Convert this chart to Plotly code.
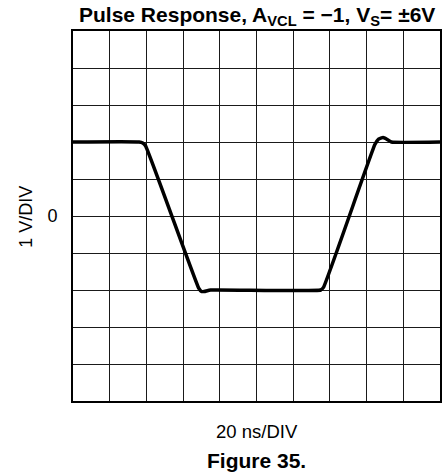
import plotly.graph_objects as go

# Scope trace: time (ns) and output voltage (V)
time_ns = [0, 36.0, 38.0, 39.5, 68.5, 70.0, 71.5, 75.0, 135.0, 136.5,
           164.5, 166.5, 169.0, 171.5, 173.5, 200]
volts = [2.0, 2.0, 1.97, 1.9, -1.95, -2.04, -2.04, -2.0, -2.0, -1.93,
         1.93, 2.08, 2.12, 2.06, 2.0, 2.0]

x_ticks = list(range(0, 201, 20))
y_ticks = list(range(-5, 6))
y_ticktext = ["0" if v == 0 else "" for v in y_ticks]

FONT = "Liberation Sans, Arial, sans-serif"
W, H = 443, 476
ML, MR, MT, MB = 73, 1, 31, 75

fig = go.Figure()
fig.add_trace(go.Scatter(
    x=time_ns, y=volts, mode="lines",
    line=dict(color="black", width=3.5, shape="spline", smoothing=0.4),
    hoverinfo="skip", showlegend=False,
))

fig.update_xaxes(
    range=[0, 200], tickvals=x_ticks, showticklabels=False, ticks="",
    showgrid=True, gridcolor="#1a1a1a", gridwidth=1, zeroline=False,
    showline=True, linecolor="black", linewidth=2, mirror=True,
    fixedrange=True,
)
fig.update_yaxes(
    range=[-5, 5], tickvals=y_ticks, ticktext=y_ticktext, ticks="",
    ticklabelstandoff=10,
    tickfont=dict(family=FONT, size=18, color="black"),
    showgrid=True, gridcolor="#1a1a1a", gridwidth=1, zeroline=False,
    showline=True, linecolor="black", linewidth=2, mirror=True,
    fixedrange=True,
)

ph = H - MT - MB


def py(px):
    return (H - MB - px) / ph


fig.add_annotation(
    text="Pulse Response, A<sub>VCL</sub> = \u22121, V<sub>S</sub>= \u00b16V",
    xref="paper", yref="paper", x=0.5, y=py(16), xanchor="center",
    yanchor="middle", showarrow=False,
    font=dict(family=FONT, size=21, color="black", weight="bold"),
)
fig.add_annotation(
    text="1 V/DIV", xref="paper", yref="paper", x=(25.5 - ML) / (W - ML - MR),
    y=py(217), textangle=-90, xanchor="center", yanchor="middle",
    showarrow=False, font=dict(family=FONT, size=18, color="black"),
)
fig.add_annotation(
    text="20 ns/DIV", xref="paper", yref="paper", x=0.5, y=py(431),
    xanchor="center", yanchor="middle", showarrow=False,
    font=dict(family=FONT, size=18.5, color="black"),
)
fig.add_annotation(
    text="Figure 35.", xref="paper", yref="paper", x=0.5, y=py(460),
    xanchor="center", yanchor="middle", showarrow=False,
    font=dict(family=FONT, size=21, color="black", weight="bold"),
)

fig.update_layout(
    width=W, height=H,
    margin=dict(l=ML, r=MR, t=MT, b=MB, pad=0),
    paper_bgcolor="white", plot_bgcolor="white",
    showlegend=False,
)

fig.write_html("out.html", config={"displayModeBar": False})
